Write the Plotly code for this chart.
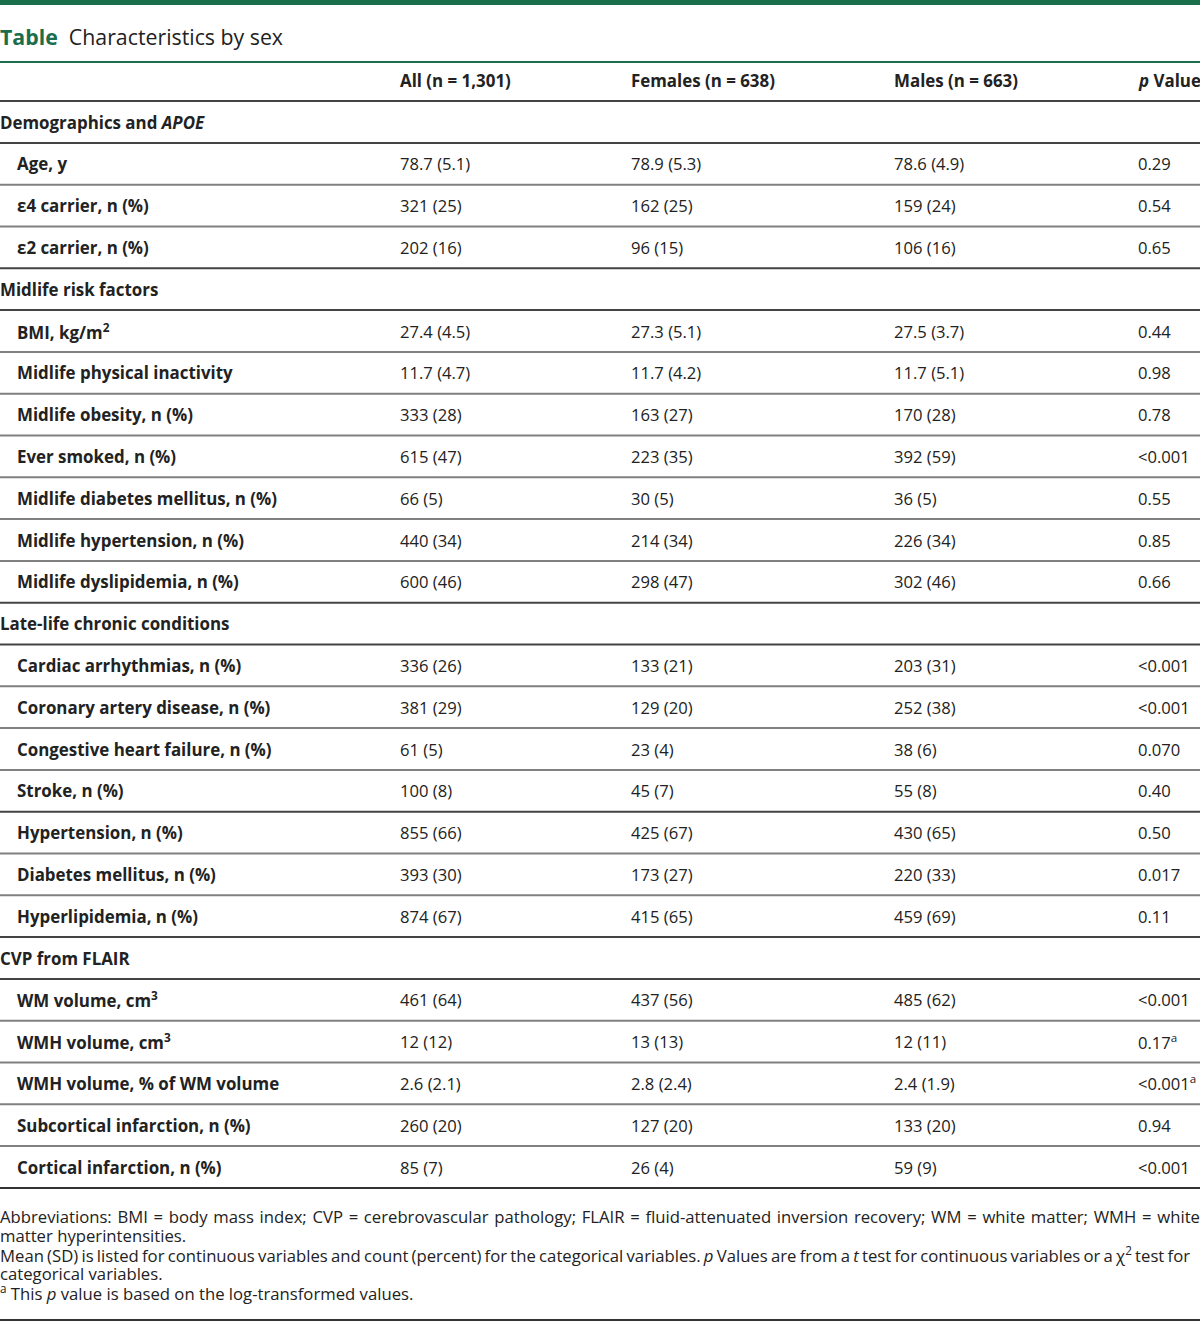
import plotly.graph_objects as go

# ---------------- data ----------------
col_headers = ["All (n = 1,301)", "Females (n = 638)", "Males (n = 663)", "<i>p</i> Value"]

row_labels = [
    "Demographics and <i>APOE</i>",
    "Age, y",
    "ε4 carrier, n (%)",
    "ε2 carrier, n (%)",
    "Midlife risk factors",
    "BMI, kg/m<sup>2</sup>",
    "Midlife physical inactivity",
    "Midlife obesity, n (%)",
    "Ever smoked, n (%)",
    "Midlife diabetes mellitus, n (%)",
    "Midlife hypertension, n (%)",
    "Midlife dyslipidemia, n (%)",
    "Late-life chronic conditions",
    "Cardiac arrhythmias, n (%)",
    "Coronary artery disease, n (%)",
    "Congestive heart failure, n (%)",
    "Stroke, n (%)",
    "Hypertension, n (%)",
    "Diabetes mellitus, n (%)",
    "Hyperlipidemia, n (%)",
    "CVP from FLAIR",
    "WM volume, cm<sup>3</sup>",
    "WMH volume, cm<sup>3</sup>",
    "WMH volume, % of WM volume",
    "Subcortical infarction, n (%)",
    "Cortical infarction, n (%)",
]
is_section = [True, False, False, False, True, False, False, False, False, False, False, False,
              True, False, False, False, False, False, False, False, True, False, False, False, False, False]

all_vals = ["", "78.7 (5.1)", "321 (25)", "202 (16)", "", "27.4 (4.5)", "11.7 (4.7)", "333 (28)",
            "615 (47)", "66 (5)", "440 (34)", "600 (46)", "", "336 (26)", "381 (29)", "61 (5)",
            "100 (8)", "855 (66)", "393 (30)", "874 (67)", "", "461 (64)", "12 (12)", "2.6 (2.1)",
            "260 (20)", "85 (7)"]
female_vals = ["", "78.9 (5.3)", "162 (25)", "96 (15)", "", "27.3 (5.1)", "11.7 (4.2)", "163 (27)",
               "223 (35)", "30 (5)", "214 (34)", "298 (47)", "", "133 (21)", "129 (20)", "23 (4)",
               "45 (7)", "425 (67)", "173 (27)", "415 (65)", "", "437 (56)", "13 (13)", "2.8 (2.4)",
               "127 (20)", "26 (4)"]
male_vals = ["", "78.6 (4.9)", "159 (24)", "106 (16)", "", "27.5 (3.7)", "11.7 (5.1)", "170 (28)",
             "392 (59)", "36 (5)", "226 (34)", "302 (46)", "", "203 (31)", "252 (38)", "38 (6)",
             "55 (8)", "430 (65)", "220 (33)", "459 (69)", "", "485 (62)", "12 (11)", "2.4 (1.9)",
             "133 (20)", "59 (9)"]
p_vals = ["", "0.29", "0.54", "0.65", "", "0.44", "0.98", "0.78", "<0.001", "0.55", "0.85", "0.66",
          "", "<0.001", "<0.001", "0.070", "0.40", "0.50", "0.017", "0.11", "",
          "<0.001", "0.17<sup>a</sup>", "<0.001<sup>a</sup>", "0.94", "<0.001"]

footnotes = [
    "Abbreviations: BMI = body mass index; CVP = cerebrovascular pathology; FLAIR = fluid-attenuated inversion recovery; WM = white matter; WMH = white",
    "matter hyperintensities.",
    "Mean (SD) is listed for continuous variables and count (percent) for the categorical variables. <i>p</i> Values are from a <i>t</i> test for continuous variables or a χ<sup>2</sup> test for",
    "categorical variables.",
    "<sup>a</sup> This <i>p</i> value is based on the log-transformed values.",
]
footnote_word_spacing = [1.35, 0, -1.1, 0, 0]

# ---------------- layout constants ----------------
W, H = 1200, 1322
PITCH = 41.8
Y0 = 122.0  # pixel centre of first body row
FONT = "Open Sans"
TXT = "#222222"
GREEN = "#1b6e4b"
BOLD_SIZE = 16.9
REG_SIZE = 16.6
FOOT_SIZE = 16.7
XS = -2

def ry(px):
    """pixel y -> row units"""
    return (px - Y0) / PITCH

col_x = [400, 631, 894, 1138]

fig = go.Figure()
fig.add_trace(go.Scatter(x=[0, W], y=[0, 0], mode="markers", marker=dict(opacity=0),
                         hoverinfo="skip", showlegend=False))

ann = []
# title
ann.append(dict(x=0, y=ry(36), xref="x", yref="y", xanchor="left", yanchor="middle", showarrow=False,
                xshift=XS,
                text=f"<span style='color:{GREEN}'><b>Table</b></span>  Characteristics by sex",
                font=dict(family=FONT, size=21.3, color=TXT)))
# header
for cx, h in zip(col_x, col_headers):
    ann.append(dict(x=cx, y=-1, xref="x", yref="y", xanchor="left", yanchor="middle", showarrow=False,
                    xshift=XS, text=f"<b>{h}</b>", font=dict(family=FONT, size=BOLD_SIZE, color=TXT)))
# body
for i, lab in enumerate(row_labels):
    ann.append(dict(x=0 if is_section[i] else 17, y=i, xref="x", yref="y", xanchor="left",
                    yanchor="middle", showarrow=False, text=f"<b>{lab}</b>", xshift=XS,
                    font=dict(family=FONT, size=BOLD_SIZE, color=TXT)))
    for cx, vals in zip(col_x, [all_vals, female_vals, male_vals, p_vals]):
        if vals[i]:
            ann.append(dict(x=cx, y=i, xref="x", yref="y", xanchor="left", yanchor="middle",
                            showarrow=False, text=vals[i], xshift=XS,
                            font=dict(family=FONT, size=REG_SIZE, color=TXT)))
# footnotes
for k, t in enumerate(footnotes):
    ws = footnote_word_spacing[k]
    txt = f"<span style='word-spacing:{ws}px'>{t}</span>" if ws else t
    ann.append(dict(x=0, y=ry(1216 + k * 19.3), xref="x", yref="y", xanchor="left", yanchor="middle",
                    showarrow=False, text=txt, xshift=XS,
                    font=dict(family=FONT, size=FOOT_SIZE, color=TXT)))

shapes = []
# top green bar
shapes.append(dict(type="rect", xref="x", yref="y", x0=0, x1=W, y0=ry(0), y1=ry(5),
                   fillcolor=GREEN, line=dict(width=0)))
# green line under title
shapes.append(dict(type="line", xref="x", yref="y", x0=0, x1=W, y0=ry(62), y1=ry(62),
                   line=dict(color=GREEN, width=2)))
# row separators
n = len(row_labels)
dark_after = set()
for i in range(n):
    if is_section[i]:
        dark_after.add(i - 1)
        dark_after.add(i)
dark_after.add(16)
for i in range(-1, n):
    yb = i + 0.5
    if i == n - 1:
        col, w = "#333333", 2
    elif i in dark_after:
        col, w = "#444444", 2
    else:
        col, w = "#808080", 2
    shapes.append(dict(type="line", xref="x", yref="y", x0=0, x1=W, y0=yb, y1=yb,
                       line=dict(color=col, width=w)))
# bottom rule
shapes.append(dict(type="line", xref="x", yref="y", x0=0, x1=W, y0=ry(1320), y1=ry(1320),
                   line=dict(color="#333333", width=2)))

fig.update_layout(
    width=W, height=H,
    margin=dict(l=0, r=0, t=0, b=0),
    paper_bgcolor="white", plot_bgcolor="white",
    xaxis=dict(range=[0, W], visible=False, fixedrange=True),
    yaxis=dict(range=[ry(H), ry(0)], visible=False, fixedrange=True),
    annotations=ann, shapes=shapes,
    showlegend=False,
)

fig.write_html("out.html", config={"displayModeBar": False},
               post_script="document.body.style.margin='0';document.body.style.padding='0';document.body.style.overflow='hidden';")
